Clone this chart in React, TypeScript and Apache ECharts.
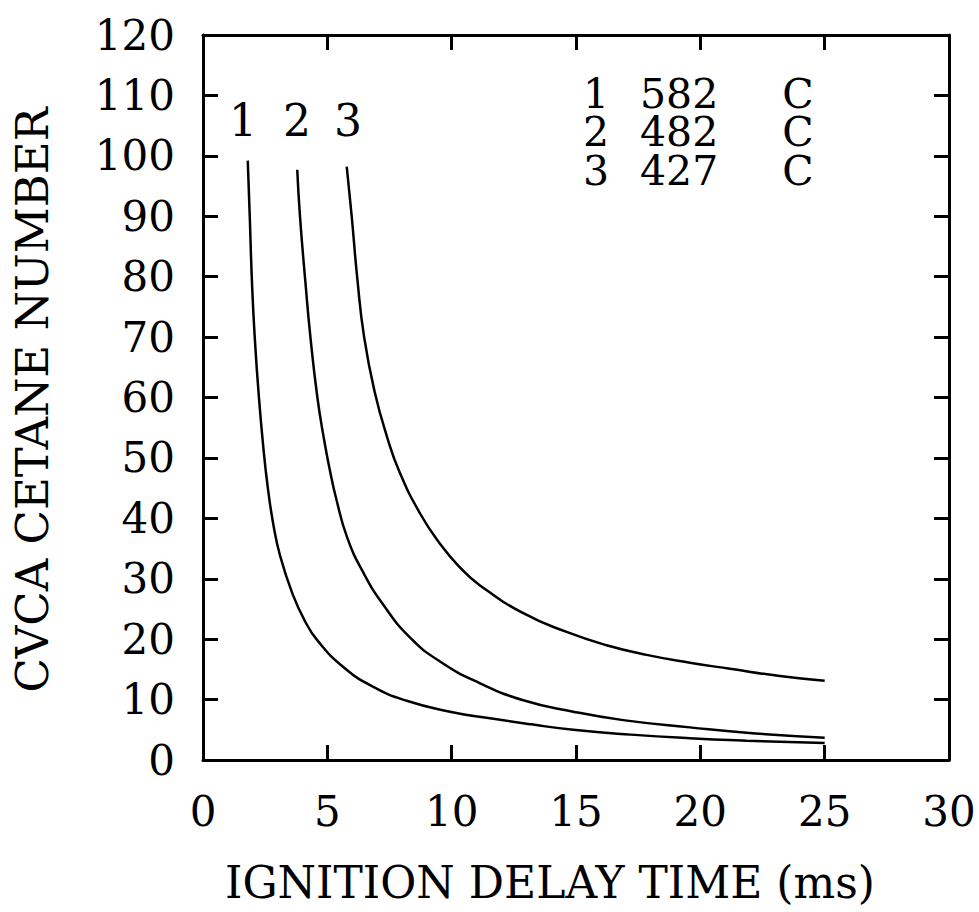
import React, { useEffect, useRef } from "react";
import * as echarts from "echarts";

const xTicks = [0, 5, 10, 15, 20, 25, 30];
const yTicks = [0, 10, 20, 30, 40, 50, 60, 70, 80, 90, 100, 110, 120];

const curve1: [number, number][] = [
  [1.8, 99.2], [1.88, 90.0], [1.97, 79.0], [2.08, 70.0], [2.25, 60.0], [2.42, 52.0],
  [2.6, 45.3], [2.82, 39.2], [3.1, 33.8], [3.6, 27.5], [4.1, 23.0], [4.6, 19.8],
  [5.64, 15.4], [6.85, 12.1], [8.19, 9.8], [9.93, 8.0], [11.54, 6.9], [13.2, 5.9],
  [14.89, 5.0], [17.2, 4.2], [19.58, 3.6], [21.86, 3.2], [25.0, 2.8],
];
const curve2: [number, number][] = [
  [3.79, 97.7], [3.9, 90.0], [4.12, 79.0], [4.32, 70.0], [4.6, 60.0], [4.87, 53.0],
  [5.1, 48.0], [5.36, 43.2], [5.8, 36.8], [6.45, 31.0], [7.25, 25.7], [8.32, 20.3],
  [9.53, 16.3], [11.14, 12.7], [12.88, 9.9], [14.89, 8.0], [16.9, 6.6], [19.58, 5.4],
  [21.86, 4.5], [25.0, 3.7],
];
const curve3: [number, number][] = [
  [5.78, 98.2], [5.98, 90.0], [6.21, 79.5], [6.48, 70.0], [6.9, 61.0], [7.4, 53.5],
  [7.92, 47.5], [8.73, 40.8], [9.53, 35.8], [10.3, 32.0], [11.14, 28.9], [12.88, 24.3],
  [14.62, 21.2], [16.23, 19.0], [17.84, 17.4], [19.58, 16.1], [21.19, 15.1], [23.2, 13.9],
  [25.0, 13.1],
];

const curveLabels = ["1", "2", "3"];
const legendIds = ["1", "2", "3"];
const legendTemps = ["582", "482", "427"];
const legendUnit = "C";
const xTitle = "IGNITION DELAY TIME (ms)";
const yTitle = "CVCA CETANE NUMBER";

const FONT = "DejaVu Serif";

export default function App() {
  const ref = useRef<HTMLDivElement>(null);
  useEffect(() => {
    if (!ref.current) return;
    const chart = echarts.init(ref.current, undefined, { renderer: "svg" });
    const axisLine = () => ({ show: true, onZero: false, lineStyle: { color: "#000", width: 3 } });
    const tick = () => ({ show: true, inside: true, length: 15, lineStyle: { color: "#000", width: 3 } });
    const lineSeries = (data: [number, number][]) => ({
      type: "line",
      data,
      showSymbol: false,
      smooth: 0.5,
      lineStyle: { color: "#000", width: 2.5 },
      xAxisIndex: 0,
      yAxisIndex: 0,
    });
    const curveLabelPos = [243, 297, 348];
    const graphic: any[] = [];
    curveLabels.forEach((t, i) => {
      graphic.push({
        type: "text",
        x: curveLabelPos[i],
        y: 120,
        style: { text: t, font: `44px '${FONT}'`, fill: "#000", textAlign: "center", textVerticalAlign: "middle" },
      });
    });
    const colStyle = (text: string, align: string) => ({
      text,
      font: `41px '${FONT}'`,
      fill: "#000",
      textAlign: align,
      textVerticalAlign: "middle",
      lineHeight: 38.5,
    });
    graphic.push({ type: "text", x: 596, y: 132, style: colStyle(legendIds.join("\n"), "center") });
    graphic.push({ type: "text", x: 640, y: 132, style: colStyle(legendTemps.join("\n"), "left") });
    graphic.push({
      type: "text", x: 798, y: 132,
      style: colStyle(legendIds.map(() => legendUnit).join("\n"), "center"),
    });
    graphic.push({
      type: "text", x: 550, y: 882,
      style: { text: xTitle, font: `44px '${FONT}'`, fill: "#000", textAlign: "center", textVerticalAlign: "middle" },
    });
    graphic.push({
      type: "text", x: 32, y: 400, rotation: Math.PI / 2,
      style: { text: yTitle, font: `45px '${FONT}'`, fill: "#000", textAlign: "center", textVerticalAlign: "middle" },
    });
    chart.setOption({
      animation: false,
      backgroundColor: "#fff",
      grid: { left: 203, right: 30, top: 35, bottom: 152, show: false, containLabel: false, outerBoundsMode: "none" },
      xAxis: [
        {
          type: "value", min: xTicks[0], max: xTicks[xTicks.length - 1], interval: 5,
          position: "bottom",
          axisLine: axisLine(), axisTick: tick(), splitLine: { show: false },
          axisLabel: { fontFamily: FONT, fontSize: 42, color: "#000", margin: 30 },
        },
        {
          type: "value", min: xTicks[0], max: xTicks[xTicks.length - 1], interval: 5,
          position: "top",
          axisLine: axisLine(), axisTick: tick(), splitLine: { show: false },
          axisLabel: { show: false },
        },
      ],
      yAxis: [
        {
          type: "value", min: yTicks[0], max: yTicks[yTicks.length - 1], interval: 10,
          position: "left",
          axisLine: axisLine(), axisTick: tick(), splitLine: { show: false },
          axisLabel: { fontFamily: FONT, fontSize: 42, color: "#000", margin: 28 },
        },
        {
          type: "value", min: yTicks[0], max: yTicks[yTicks.length - 1], interval: 10,
          position: "right",
          axisLine: axisLine(), axisTick: tick(), splitLine: { show: false },
          axisLabel: { show: false },
        },
      ],
      series: [lineSeries(curve1), lineSeries(curve2), lineSeries(curve3)],
      graphic,
    });
    return () => chart.dispose();
  }, []);
  return (
    <div
      ref={ref}
      style={{ position: "fixed", left: 0, top: 0, width: 979, height: 912, background: "#fff" }}
    />
  );
}
